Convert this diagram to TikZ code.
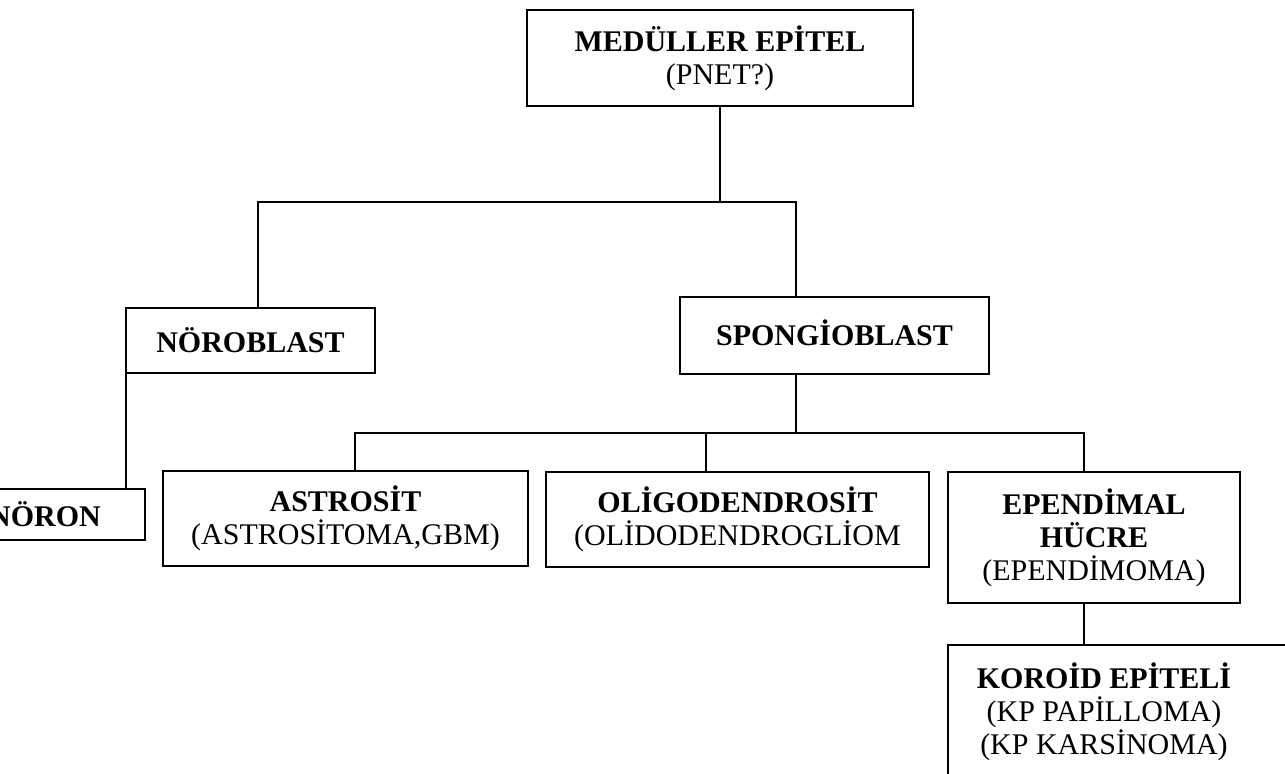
\documentclass[tikz,border=0pt]{standalone}
\usepackage{fontspec}
\setmainfont{Liberation Serif}
\usetikzlibrary{calc}

\tikzset{
  cell/.style={draw, line width=1.3pt, align=center, inner sep=0pt, outer sep=0pt,
    font=\fontsize{15}{16.5}\selectfont},
  link/.style={line width=1.3pt},
}

\begin{document}
\begin{tikzpicture}[x=0.5pt, y=-0.5pt]
  \useasboundingbox (0,0) rectangle (1285,773);
  \clip (0,0) rectangle (1285,773);

  % top level
  \node[cell, minimum width=193pt, minimum height=48pt] (med) at (720,58)
    {\textbf{MEDÜLLER EPİTEL}\\(PNET?)};

  % second level
  \node[cell, minimum width=124.5pt, minimum height=32.5pt] (nbl) at (250.5,340.5)
    {\textbf{NÖROBLAST}};
  \node[cell, minimum width=154.5pt, minimum height=38.5pt] (spon) at (834.5,335.5)
    {\raisebox{3pt}{\textbf{SPONGİOBLAST}}};

  % third level
  \node[cell, minimum width=100pt, minimum height=25.5pt] (nor) at (45,514.5)
    {\textbf{NÖRON}};
  \node[cell, minimum width=182.5pt, minimum height=47.5pt] (astro) at (345.5,518.5)
    {\textbf{ASTROSİT}\\(ASTROSİTOMA,GBM)};
  \node[cell, minimum width=191.5pt, minimum height=47.5pt] (oligo) at (737.5,519.5)
    {\textbf{OLİGODENDROSİT}\\(OLİDODENDROGLİOM};
  \node[cell, minimum width=146pt, minimum height=65.5pt] (epen) at (1094,537.5)
    {\textbf{EPENDİMAL}\\\textbf{HÜCRE}\\(EPENDİMOMA)};

  % last box runs off the page
  \node[cell, minimum width=176pt, minimum height=77.5pt] (kor) at (1124,722.5) {};
  \node[align=center, inner sep=0pt, font=\fontsize{15}{16.5}\selectfont] (kortxt) at (1104,712)
    {\textbf{KOROİD EPİTELİ}\\(KP PAPİLLOMA)\\(KP KARSİNOMA)};

  % joints
  \coordinate (jn) at (258,202);
  \coordinate (js) at (796,202);
  \coordinate (ja) at (355,433);
  \coordinate (jo) at (706,433);
  \coordinate (je) at (1084,433);

  % connectors
  \draw[link] (med.south) -- (med.south |- jn);
  \draw[link] (jn |- nbl.north) -- (jn) -- (js) -- (js |- spon.north);
  \draw[link] (js |- spon.south) -- (js |- ja);
  \draw[link] (ja |- astro.north) -- (ja) -- (je) -- (je |- epen.north);
  \draw[link] (jo) -- (jo |- oligo.north);
  \draw[link] (nbl.south west) -- (nbl.south west |- nor.north);
  \draw[link] (je |- epen.south) -- (je |- kor.north);
\end{tikzpicture}
\end{document}
